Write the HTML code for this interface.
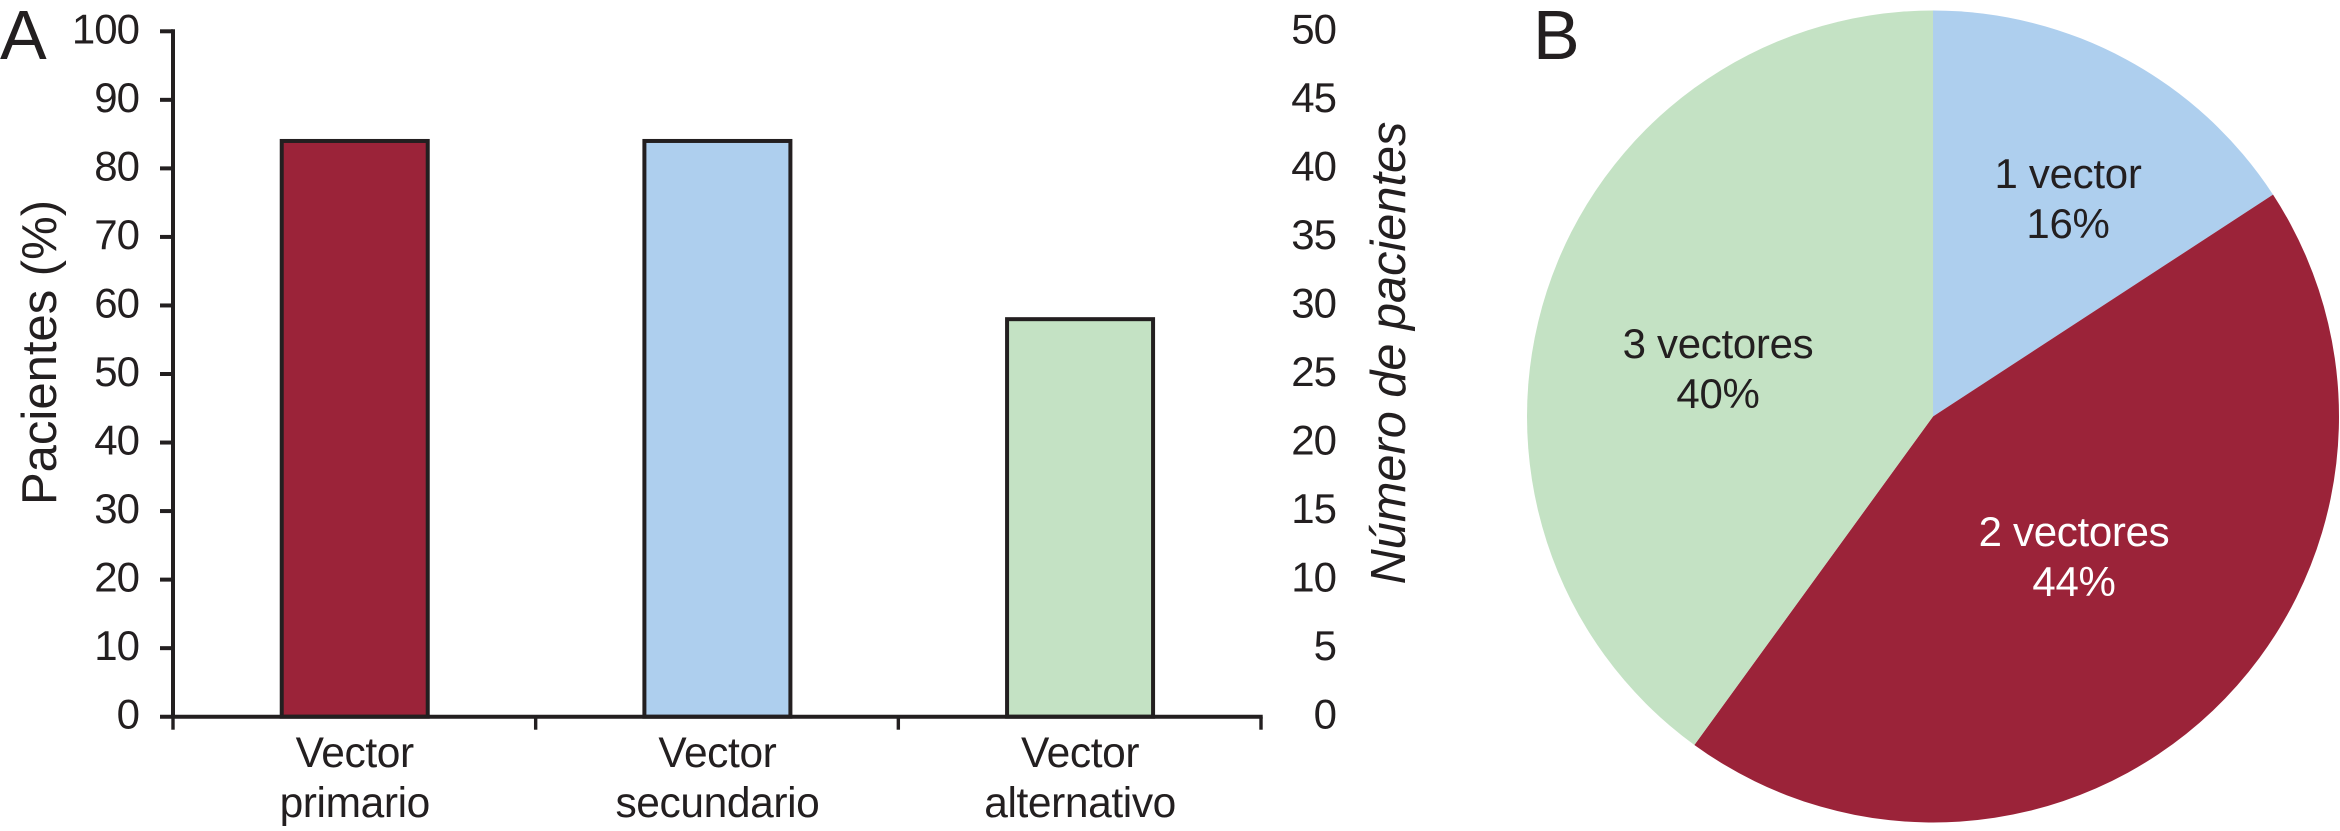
<!DOCTYPE html>
<html lang="es">
<head>
<meta charset="utf-8">
<title>Pacientes por vector</title>
<style>
  html, body { margin: 0; padding: 0; background: #fff; }
  #chart { display: block; }
  text { font-family: "Liberation Sans", Arial, sans-serif; fill: #231f20; }
</style>
</head>
<body>
<svg id="chart" xmlns="http://www.w3.org/2000/svg" width="2340" height="831" viewBox="0 0 2340 831">
  <rect x="0" y="0" width="2340" height="831" fill="#ffffff"/>
  <text x="0" y="59" font-size="70">A</text>
  <text x="1533" y="59" font-size="70">B</text>
  <text transform="translate(56 352.5) rotate(-90)" text-anchor="middle" font-size="49">Pacientes (%)</text>
  <text transform="translate(1405 353) rotate(-90)" text-anchor="middle" font-size="48.7" font-style="italic">Número de pacientes</text>
  <g id="bars"></g>
  <g id="axes"></g>
  <g id="pie"></g>
</svg>
<script>
// Bar chart data
const barCategories = [["Vector", "primario"], ["Vector", "secundario"], ["Vector", "alternativo"]];
const barKeys = ["primario", "secundario", "alternativo"];
const barValues = [84, 84, 58];
const leftTicks = [0, 10, 20, 30, 40, 50, 60, 70, 80, 90, 100];
const rightTicks = [0, 5, 10, 15, 20, 25, 30, 35, 40, 45, 50];

// Pie chart data
const pieKeys = ["1-vector", "2-vectores", "3-vectores"];
const pieLabels = ["1 vector", "2 vectores", "3 vectores"];
const pieValues = [15.8, 44.2, 40];
const piePrinted = ["16%", "44%", "40%"];

const NS = "http://www.w3.org/2000/svg";
const INK = "#231f20";
const CRIMSON = "#9b2339";
const BLUE = "#aecfee";
const GREEN = "#c4e2c4";
const barFill = [CRIMSON, BLUE, GREEN];
const pieFill = [BLUE, CRIMSON, GREEN];

const plot = { left: 173, right: 1261, top: 31.3, bottom: 716.7 };
const yLeft = v => plot.bottom - (v / 100) * (plot.bottom - plot.top);
const yRight = v => plot.bottom - (v / 50) * (plot.bottom - plot.top);
const band = (plot.right - plot.left) / barValues.length;
const xEdge = i => plot.left + i * band;
const xCenter = i => xEdge(i) + band / 2;
const BAR_WIDTH = 146;

function make(tag, attrs, parent) {
  const el = document.createElementNS(NS, tag);
  Object.keys(attrs).forEach(k => el.setAttribute(k, attrs[k]));
  parent.appendChild(el);
  return el;
}

const barsG = document.getElementById("bars");
const axesG = document.getElementById("axes");
const pieG = document.getElementById("pie");

// Bars
barValues.forEach((v, i) => {
  const el = make("rect", {
    x: xCenter(i) - BAR_WIDTH / 2 + 0.4, y: yLeft(v),
    width: BAR_WIDTH, height: plot.bottom - yLeft(v),
    fill: barFill[i], stroke: INK, "stroke-width": 4
  }, barsG);
  
  
});

// Axis lines
const yLine = make("line", { x1: plot.left, x2: plot.left, y1: plot.top - 2, y2: plot.bottom, stroke: INK, "stroke-width": 4 }, axesG);


const xLine = make("line", { x1: plot.left - 13, x2: plot.right + 1.7, y1: plot.bottom, y2: plot.bottom, stroke: INK, "stroke-width": 4 }, axesG);



// Left ticks and labels
leftTicks.forEach(v => {
  if (v > 0) {
    const t = make("line", { x1: plot.left - 13, x2: plot.left, y1: yLeft(v), y2: yLeft(v), stroke: INK, "stroke-width": 4 }, axesG);
    
    
  }
  const lab = make("text", { x: 139, y: yLeft(v) + 12, "text-anchor": "end", "font-size": 42, "letter-spacing": -1 }, axesG);
  lab.textContent = String(v);
  
  
});

// Right tick labels
rightTicks.forEach(v => {
  const lab = make("text", { x: 1336, y: yRight(v) + 12, "text-anchor": "end", "font-size": 42, "letter-spacing": -1 }, axesG);
  lab.textContent = String(v);
  
  
});

// X ticks and category labels
for (let i = 0; i <= barValues.length; i++) {
  const t = make("line", { x1: xEdge(i), x2: xEdge(i), y1: plot.bottom, y2: plot.bottom + 13, stroke: INK, "stroke-width": 3.4 }, axesG);
  
  
}
barCategories.forEach((lines, i) => {
  lines.forEach((line, j) => {
    const lab = make("text", { x: xCenter(i) + 0.4, y: 767 + j * 50, "text-anchor": "middle", "font-size": 42.5, "letter-spacing": -0.4 }, axesG);
    lab.textContent = line;
    
    
  });
});

// Pie
const pieCx = 1933, pieCy = 416.5, pieR = 406;
const pieTotal = pieValues.reduce((a, b) => a + b, 0);
const pieLabelOffset = [135, 141, -215];
const pieLabelY = [188, 546, 358];
let cum = 0;
pieValues.forEach((v, i) => {
  const a0 = (cum / pieTotal) * 2 * Math.PI;
  cum += v;
  const a1 = (cum / pieTotal) * 2 * Math.PI;
  const x0 = pieCx + pieR * Math.sin(a0), y0 = pieCy - pieR * Math.cos(a0);
  const x1 = pieCx + pieR * Math.sin(a1), y1 = pieCy - pieR * Math.cos(a1);
  const large = (a1 - a0) > Math.PI ? 1 : 0;
  const slice = make("path", {
    d: "M" + pieCx + " " + pieCy + " L" + x0 + " " + y0 + " A" + pieR + " " + pieR + " 0 " + large + " 1 " + x1 + " " + y1 + " Z",
    fill: pieFill[i]
  }, pieG);
  
  
});
pieValues.forEach((v, i) => {
  const color = pieFill[i] === CRIMSON ? "#ffffff" : INK;
  const name = make("text", { x: pieCx + pieLabelOffset[i], y: pieLabelY[i], "text-anchor": "middle", "font-size": 42, "letter-spacing": -0.3, style: "fill:" + color }, pieG);
  name.textContent = pieLabels[i];
  
  
  const pct = make("text", { x: pieCx + pieLabelOffset[i], y: pieLabelY[i] + 50, "text-anchor": "middle", "font-size": 42, "letter-spacing": -0.3, style: "fill:" + color }, pieG);
  pct.textContent = piePrinted[i];
  
  
});
</script>
</body>
</html>
